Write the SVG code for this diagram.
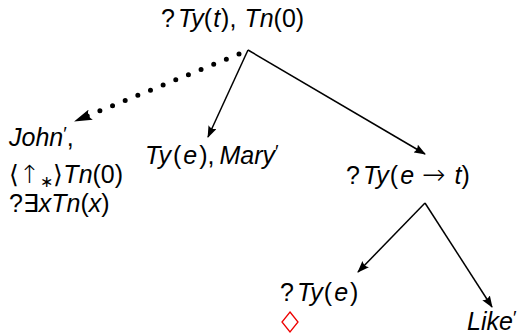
<svg xmlns="http://www.w3.org/2000/svg" width="521" height="334" viewBox="0 0 521 334">
<style>
text{font-family:"Liberation Sans","DejaVu Sans",sans-serif;font-size:25px;fill:#000}
.i{font-style:italic}
.s{font-family:"DejaVu Sans",sans-serif;font-weight:300}
.e{stroke:#000;stroke-width:1.5;fill:none}
.d{stroke:#000;stroke-width:5;stroke-linecap:round;stroke-dasharray:0 13.66;fill:none}
</style>
<defs>
<marker id="a" viewBox="0 0 12 9" refX="11" refY="4.5" markerWidth="12" markerHeight="9" markerUnits="userSpaceOnUse" orient="auto">
<path d="M0,0 L12,4.5 L0,9 Q3,4.5 0,0Z" fill="#000"/>
</marker>
<marker id="b" viewBox="0 0 18 11" refX="17" refY="5.5" markerWidth="18" markerHeight="11" markerUnits="userSpaceOnUse" orient="auto">
<path d="M0,0 L18,5.5 L0,11 Q5,5.5 0,0Z" fill="#000"/>
</marker>
</defs>
<g id="connectors">
<path class="d" d="M239,54 L75,121" marker-end="url(#b)"/>
<path class="e" d="M248,50 L208,137" marker-end="url(#a)"/>
<path class="e" d="M248,50 L425,154" marker-end="url(#a)"/>
<path class="e" d="M425,203 L358,272" marker-end="url(#a)"/>
<path class="e" d="M425,203 L492,307" marker-end="url(#a)"/>
</g>
<g id="root"><text x="161" y="27">?<tspan class="i" dx="3">Ty</tspan>(<tspan class="i" dx="1">t</tspan><tspan dx="1">),</tspan><tspan class="i" dx="8">Tn</tspan>(0)</text></g>
<g id="john"><text x="9" y="146"><tspan class="i">John</tspan><tspan font-size="19" dy="-6">′</tspan><tspan dy="6">,</tspan></text>
<text x="9" y="183"><tspan class="s">⟨↑</tspan><tspan font-size="16" dy="4">∗</tspan><tspan class="s" dy="-4">⟩</tspan><tspan class="i">Tn</tspan>(0)</text>
<text x="9" y="212">?∃<tspan class="i">xTn</tspan>(<tspan class="i">x</tspan>)</text></g>
<g id="mary"><text x="145" y="164"><tspan class="i">Ty</tspan><tspan dx="2">(</tspan><tspan class="i" dx="2">e</tspan><tspan dx="2">),</tspan><tspan class="i" dx="5">Mary</tspan><tspan font-size="19" dy="-6">′</tspan></text></g>
<g id="et"><text x="346" y="184">?<tspan class="i" dx="3">Ty</tspan><tspan dx="1">(</tspan><tspan class="i" dx="2">e</tspan><tspan class="s" dx="8" font-size="28">→</tspan><tspan class="i" dx="9">t</tspan>)</text></g>
<g id="tye"><text x="280" y="301">?<tspan class="i" dx="3">Ty</tspan><tspan dx="1">(</tspan><tspan class="i" dx="2">e</tspan><tspan dx="2">)</tspan></text>
<path d="M290,312 L298,322 L290,332 L282,322Z" fill="none" stroke="#e00" stroke-width="1.3"/></g>
<g id="like"><text x="467" y="330"><tspan class="i">Like</tspan><tspan font-size="19" dy="-6">′</tspan></text></g>
</svg>
